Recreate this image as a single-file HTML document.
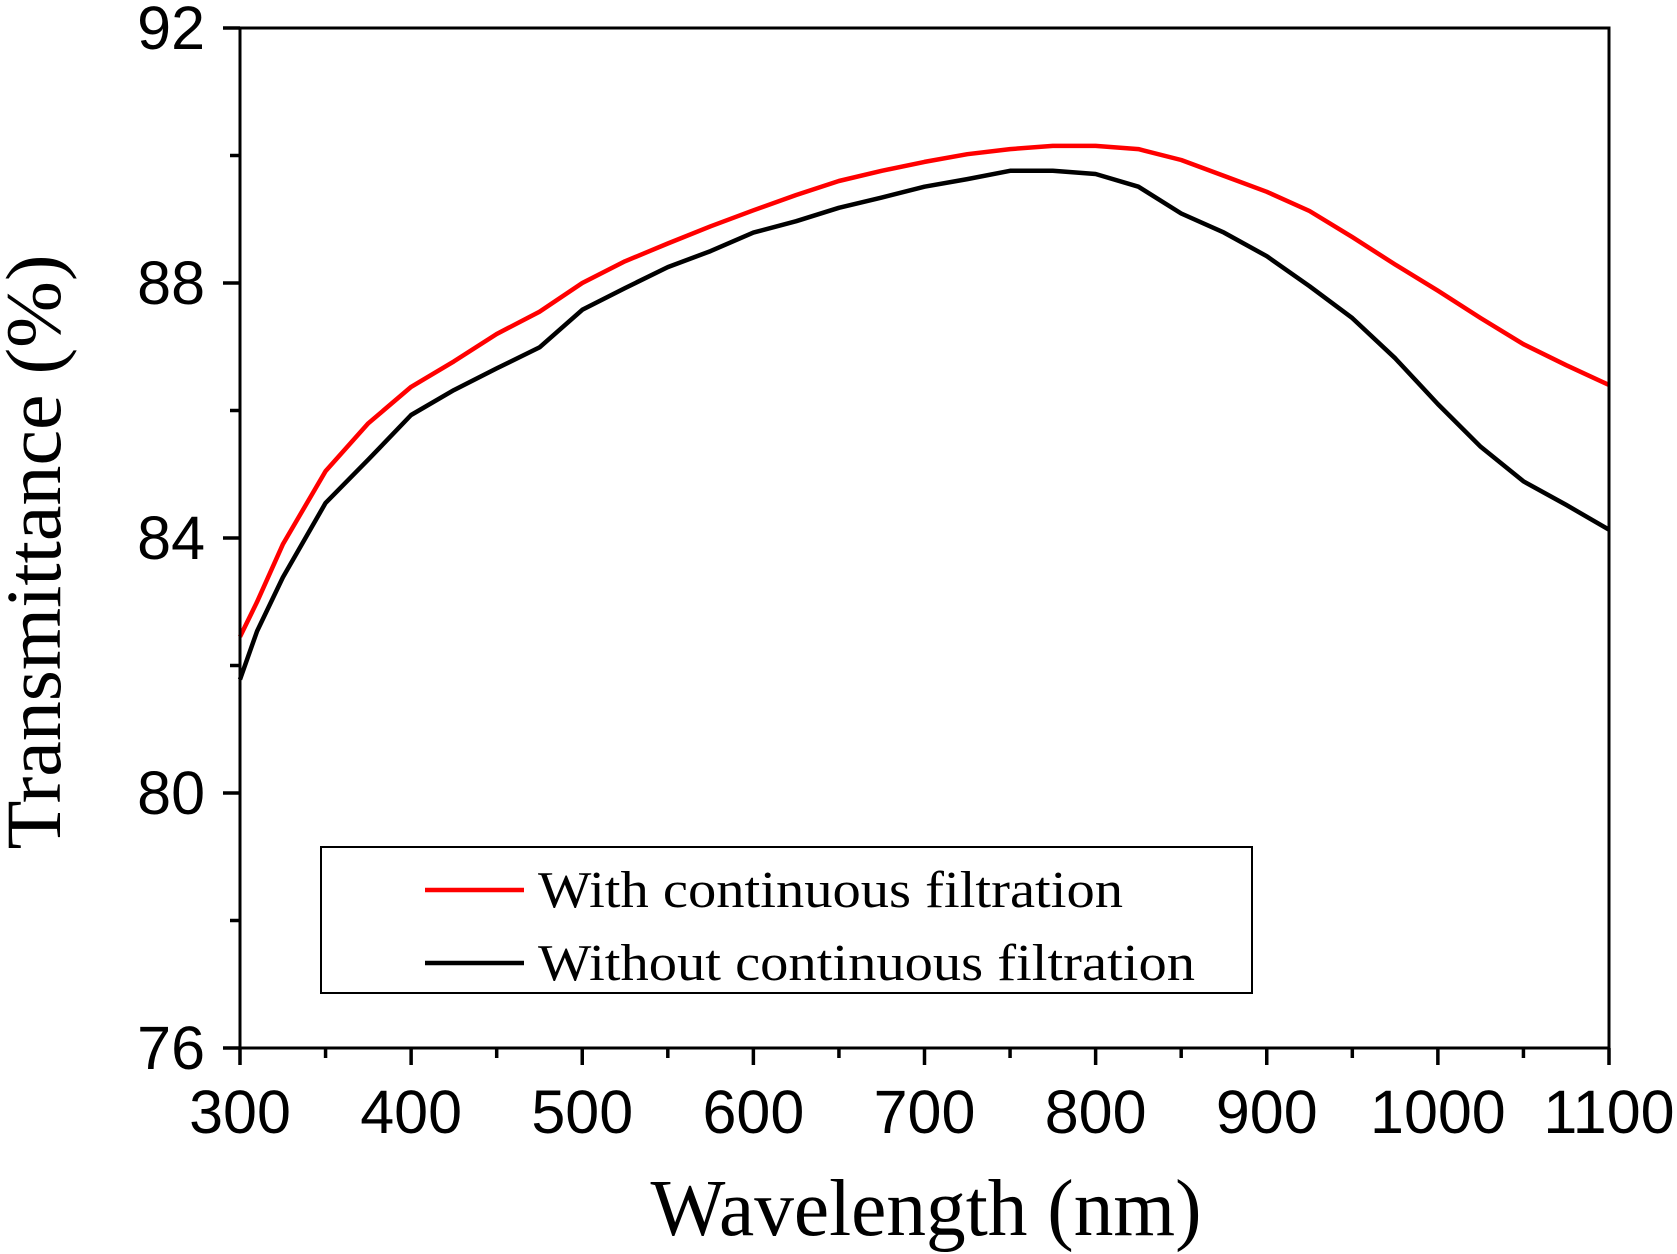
<!DOCTYPE html>
<html><head><meta charset="utf-8"><style>
html,body{margin:0;padding:0;background:#fff;}
svg{display:block;}
.tick{font-family:"Liberation Sans",Arial,sans-serif;font-size:61px;fill:#000;}
.ser{font-family:"Liberation Serif","Times New Roman",serif;fill:#000;}
</style></head><body>
<svg id="chart" width="1677" height="1254" viewBox="0 0 1677 1254" xmlns="http://www.w3.org/2000/svg">
<g id="plot"></g>
<g id="axes"></g>
<text class="ser" x="926" y="1235" font-size="80" text-anchor="middle" textLength="551" lengthAdjust="spacingAndGlyphs">Wavelength (nm)</text>
<text class="ser" transform="translate(60,552) rotate(-90)" font-size="78" text-anchor="middle" textLength="595" lengthAdjust="spacingAndGlyphs">Transmittance (%)</text>
<g>
<rect x="321" y="847" width="931" height="146" fill="#fff" stroke="#000" stroke-width="2"/>
<line x1="425" y1="890" x2="524" y2="890" stroke="#f00" stroke-width="4.5"/>
<text class="ser" x="538" y="907" font-size="52" textLength="585" lengthAdjust="spacingAndGlyphs">With continuous filtration</text>
<line x1="425" y1="963" x2="524" y2="963" stroke="#000" stroke-width="4.5"/>
<text class="ser" x="538" y="980" font-size="52" textLength="657" lengthAdjust="spacingAndGlyphs">Without continuous filtration</text>
</g>
</svg>
<script>
const wavelengths=[300,310,325,350,375,400,425,450,475,500,525,550,575,600,625,650,675,700,725,750,775,800,825,850,875,900,925,950,975,1000,1025,1050,1075,1100];
const withFiltration=[82.45,83.0,83.9,85.05,85.8,86.37,86.77,87.2,87.55,88.0,88.34,88.62,88.89,89.14,89.38,89.6,89.76,89.9,90.02,90.1,90.15,90.15,90.1,89.93,89.68,89.43,89.13,88.72,88.29,87.88,87.45,87.04,86.71,86.4];
const withoutFiltration=[81.78,82.54,83.38,84.55,85.23,85.93,86.32,86.66,86.99,87.58,87.92,88.25,88.5,88.79,88.97,89.18,89.34,89.51,89.63,89.76,89.76,89.71,89.51,89.09,88.79,88.42,87.95,87.45,86.82,86.1,85.43,84.89,84.52,84.13];
const xTickLabels=["300","400","500","600","700","800","900","1000","1100"];
const yTickLabels=["76","80","84","88","92"];
const X0=240,X1=1609,Y0=1048,Y1=28;
const xs=v=>X0+(v-300)/(1100-300)*(X1-X0);
const ys=v=>Y0-(v-76)/(92-76)*(Y0-Y1);
const NS="http://www.w3.org/2000/svg";
const plot=document.getElementById('plot'),axes=document.getElementById('axes');
function mk(t,a,p){const e=document.createElementNS(NS,t);for(const k in a)e.setAttribute(k,a[k]);p.appendChild(e);return e;}
function series(vals,color,name){
 const d=vals.map((v,i)=>(i?'L':'M')+xs(wavelengths[i]).toFixed(1)+','+ys(v).toFixed(1)).join('');
 const p=mk('path',{d:d,fill:'none',stroke:color,'stroke-width':4.5,'stroke-linejoin':'round'},plot);
 
 
}
series(withoutFiltration,'#000','line-without-filtration');
series(withFiltration,'#f00','line-with-filtration');
const fr=mk('rect',{x:X0,y:Y1,width:X1-X0,height:Y0-Y1,fill:'none',stroke:'#000','stroke-width':3},axes);


for(let v=300;v<=1100;v+=50){
 const major=(v%100===0);const x=xs(v);
 const t=mk('line',{x1:x,y1:Y0,x2:x,y2:Y0+(major?17:10),stroke:'#000','stroke-width':3.5},axes);
 
 
}
xTickLabels.forEach(l=>{
 const e=mk('text',{x:xs(+l),y:1133,'text-anchor':'middle',class:'tick'},axes);e.textContent=l;
 
 
});
for(let v=76;v<=92;v+=2){
 const major=(v%4===0);const y=ys(v);
 const t=mk('line',{x1:X0,y1:y,x2:X0-(major?17:10),y2:y,stroke:'#000','stroke-width':3.5},axes);
 
 
}
yTickLabels.forEach(l=>{
 const e=mk('text',{x:205,y:ys(+l)+21,'text-anchor':'end',class:'tick'},axes);e.textContent=l;
 
 
});
</script>
</body></html>
